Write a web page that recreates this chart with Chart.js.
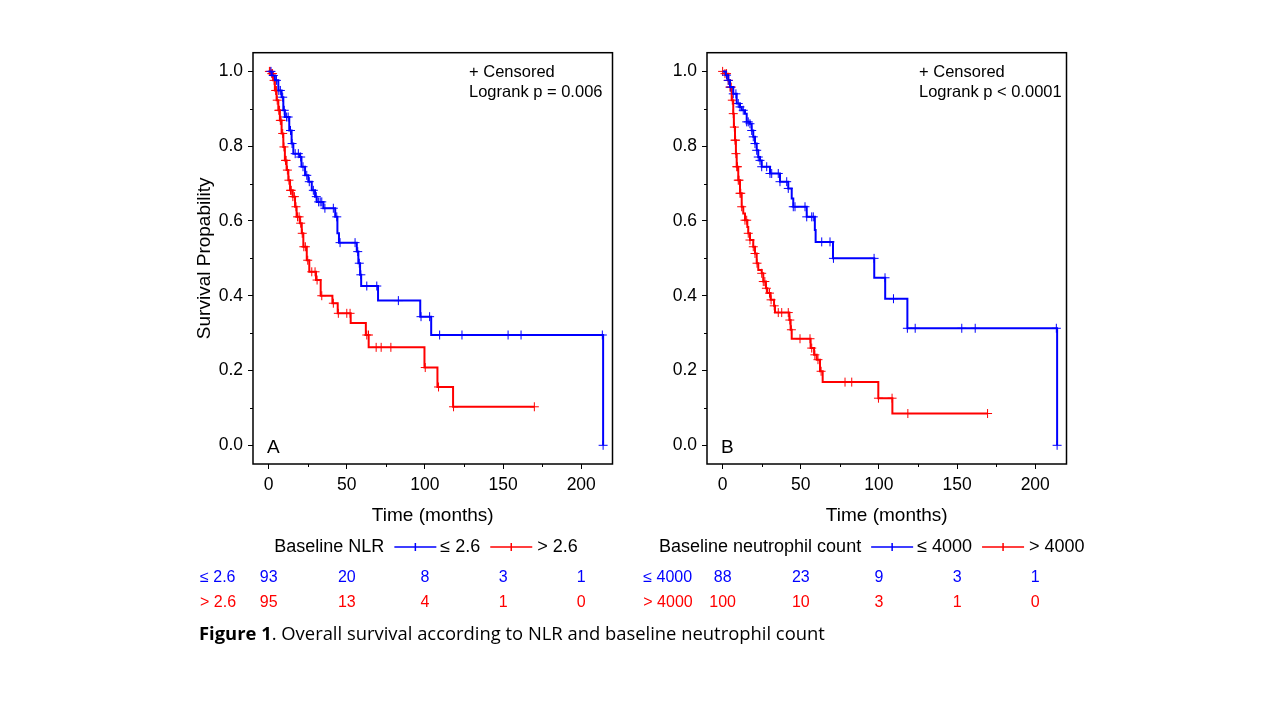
<!DOCTYPE html>
<html>
<head>
<meta charset="utf-8">
<title>Overall survival according to NLR and baseline neutrophil count</title>
<script src="https://cdn.jsdelivr.net/npm/chart.js@4.4.1/dist/chart.umd.min.js"></script>
<style>
  body { margin: 0; background: #fff; width: 1280px; height: 720px; overflow: hidden; position: relative; }
  .panel { position: absolute; top: 40px; }
  #caption {
    position: absolute; left: 199px; top: 620px;
    font-family: "Open Sans", "Noto Sans", sans-serif; font-size: 18.4px; color: #000;
    white-space: nowrap;
  }
</style>
</head>
<body>
<canvas id="chartA" class="panel" style="left:150px" width="500" height="590"></canvas>
<canvas id="chartB" class="panel" style="left:604px" width="500" height="590"></canvas>
<div id="caption"><b>Figure 1</b>. Overall survival according to NLR and baseline neutrophil count</div>

<script>
// axis ticks
const timeTicks = [0, 50, 100, 150, 200];
const timeMinorTicks = [25, 75, 125, 175];
const survTicks = [0, 0.2, 0.4, 0.6, 0.8, 1.0];
const survMinorTicks = [0.1, 0.3, 0.5, 0.7, 0.9];

// Panel A - baseline NLR <= 2.6
const nlrLowTimes = [0, 2, 4, 6.2, 8.3, 9.4, 10.4, 13.2, 14.7, 15.8, 20, 21, 23.3, 25.4, 27.6, 29.7, 30.8, 35, 42.6, 44, 45, 56.4, 57.4, 58.5, 59.2, 70, 97, 104, 214];
const nlrLowSurv  = [1.0, 0.989, 0.976, 0.949, 0.931, 0.896, 0.878, 0.842, 0.807, 0.780, 0.771, 0.745, 0.722, 0.705, 0.682, 0.665, 0.651, 0.634, 0.611, 0.567, 0.542, 0.518, 0.487, 0.456, 0.426, 0.387, 0.344, 0.295, 0.0];
const nlrLowCensor = [1.5, 3, 5, 6.5, 7.5, 9, 10, 11.5, 12.5, 14, 15, 17, 19, 20.5, 22, 24.4, 26, 28.6, 30.5, 32, 33, 34, 36, 41.4, 43.6, 45.7, 55.3, 57, 58, 59, 62.8, 69.2, 83, 97.5, 103, 109.4, 123.7, 153.2, 161.5, 213.5, 214];

// Panel A - baseline NLR > 2.6
const nlrHighTimes = [0, 1.9, 2.9, 4, 5.1, 6.2, 7.2, 8.3, 9.4, 10.4, 11.5, 12.6, 13.7, 15.4, 16.9, 17.9, 20, 21.2, 22.2, 24.4, 26, 30.3, 33.3, 40.8, 44.2, 52.5, 62.2, 64, 99.7, 108, 118, 170];
const nlrHighSurv  = [1.0, 0.994, 0.976, 0.949, 0.923, 0.896, 0.869, 0.834, 0.798, 0.762, 0.736, 0.709, 0.682, 0.665, 0.638, 0.611, 0.594, 0.567, 0.531, 0.495, 0.464, 0.442, 0.400, 0.380, 0.353, 0.327, 0.295, 0.262, 0.208, 0.156, 0.103, 0.103];
const nlrHighCensor = [0.5, 1, 2, 2.5, 3.5, 4.5, 5, 5.5, 6.5, 7, 7.5, 8, 9, 9.8, 10.8, 11.2, 12, 13, 14, 14.5, 15.5, 16.5, 17.5, 18.5, 19.5, 20.5, 21.5, 22.5, 23.5, 25, 27.6, 29.7, 31, 34, 41.4, 44.6, 50, 52.1, 62.8, 63.9, 68.8, 72, 78.2, 100.2, 108.7, 118.3, 170];

const nlrAtRiskLow  = [93, 20, 8, 3, 1];
const nlrAtRiskHigh = [95, 13, 4, 1, 0];

// Panel B - baseline neutrophil count <= 4000
const neuLowTimes = [0, 2, 3.6, 4.7, 6.8, 9, 11.1, 12.2, 14.3, 15.4, 17.5, 18.6, 19.6, 20.7, 21.8, 22.8, 23.9, 25, 30.3, 36.7, 42, 44.2, 45.2, 53.8, 59, 59.5, 70.6, 97, 104, 118.2, 214];
const neuLowSurv  = [1.0, 0.99, 0.976, 0.958, 0.94, 0.914, 0.905, 0.896, 0.887, 0.865, 0.86, 0.842, 0.825, 0.807, 0.789, 0.771, 0.762, 0.745, 0.727, 0.705, 0.687, 0.66, 0.638, 0.611, 0.576, 0.544, 0.50, 0.448, 0.392, 0.313, 0.0];
const neuLowCensor = [2.5, 3.6, 5, 6.8, 8.5, 10, 11.1, 13.2, 15.4, 16.4, 17.5, 18.6, 19.6, 20.7, 21.8, 22.8, 23.9, 25, 28.2, 30.3, 31.4, 35.6, 36.7, 41, 42, 45.2, 46.3, 52.7, 53.8, 57, 58, 63.4, 68.7, 70.9, 96.9, 103.9, 109.3, 118.2, 123.2, 153, 161.6, 213.5, 214];

// Panel B - baseline neutrophil count > 4000
const neuHighTimes = [0, 1.5, 3.6, 4.7, 5.8, 6.8, 7.2, 7.9, 8.5, 9, 10, 11.1, 12.2, 13.2, 14.3, 15.8, 16.4, 17.5, 19.6, 20.7, 21.8, 22.8, 25, 26, 27.7, 28.6, 30.7, 32.9, 33.5, 42.7, 43.5, 44.2, 56.3, 58.5, 60.2, 62.3, 64, 99.6, 108.6, 169.5];
const neuHighSurv  = [1.0, 0.994, 0.976, 0.958, 0.923, 0.887, 0.851, 0.816, 0.78, 0.745, 0.709, 0.674, 0.638, 0.62, 0.602, 0.584, 0.567, 0.549, 0.531, 0.513, 0.487, 0.469, 0.46, 0.438, 0.42, 0.407, 0.389, 0.373, 0.355, 0.335, 0.309, 0.285, 0.26, 0.242, 0.229, 0.198, 0.169, 0.126, 0.085, 0.085];
const neuHighCensor = [0, 1.5, 2.5, 3.6, 4.7, 5.5, 6.2, 6.8, 7.5, 7.9, 8.3, 8.5, 9, 9.5, 10, 10.5, 11.1, 11.6, 12.2, 14.3, 15.4, 16.4, 17.5, 19.6, 20.7, 22, 25, 26, 27, 28, 30, 31, 33, 35.6, 37.8, 42, 43, 44, 49.5, 55.9, 57, 59, 61, 63, 78.3, 82.6, 99.7, 108.4, 118.5, 169.5];

const neuAtRiskLow  = [88, 23, 9, 3, 1];
const neuAtRiskHigh = [100, 10, 3, 1, 0];

const BLUE = '#0000ff';
const RED = '#ff0000';
const FONT = '"Liberation Sans", Arial, sans-serif';

function survivalAt(times, surv, t) {
    let s = surv[0];
    for (let i = 0; i < times.length; i++) {
        if (times[i] <= t) s = surv[i];
    }
    return s;
}

function curveData(times, surv) {
    return times.map((t, i) => ({ x: t, y: surv[i] }));
}

function censorData(times, surv, censor) {
    return censor.map(t => ({ x: t, y: survivalAt(times, surv, t) }));
}

function drawCrossLine(ctx, x, y, color) {
    ctx.save();
    ctx.strokeStyle = color;
    ctx.lineWidth = 1.5;
    ctx.beginPath();
    ctx.moveTo(x, y);
    ctx.lineTo(x + 42, y);
    ctx.moveTo(x + 21, y - 4);
    ctx.lineTo(x + 21, y + 4);
    ctx.stroke();
    ctx.restore();
}

function makeChart(canvasId, cfg) {
    const extras = {
        id: 'kmExtras',
        afterDraw(chart) {
            const ctx = chart.ctx;
            const area = chart.chartArea;
            const xs = chart.scales.x;
            const ys = chart.scales.y;
            ctx.save();

            // frame
            ctx.strokeStyle = '#000';
            ctx.lineWidth = 1.5;
            ctx.strokeRect(area.left, area.top, area.right - area.left, area.bottom - area.top);

            // minor ticks
            ctx.lineWidth = 1;
            ctx.beginPath();
            timeMinorTicks.forEach(v => {
                const px = Math.round(xs.getPixelForValue(v)) + 0.5;
                ctx.moveTo(px, area.bottom);
                ctx.lineTo(px, area.bottom + 3);
            });
            survMinorTicks.forEach(v => {
                const py = Math.round(ys.getPixelForValue(v)) + 0.5;
                ctx.moveTo(area.left, py);
                ctx.lineTo(area.left - 3, py);
            });
            ctx.stroke();

            // panel letter
            ctx.fillStyle = '#000';
            ctx.font = '19px ' + FONT;
            ctx.textAlign = 'left';
            ctx.textBaseline = 'middle';
            ctx.fillText(cfg.letter, area.left + 14, ys.getPixelForValue(0) + 2);

            // censored / logrank note
            ctx.font = '16.5px ' + FONT;
            ctx.fillText('+ Censored', area.left + cfg.noteX, area.top + 19.5);
            ctx.fillText(cfg.logrank, area.left + cfg.noteX, area.top + 39.5);

            // legend
            ctx.font = '18px ' + FONT;
            const ly = 507;
            let lx = area.left + cfg.legendX;
            ctx.fillText(cfg.legendTitle, lx, ly);
            lx += ctx.measureText(cfg.legendTitle).width + 10;
            drawCrossLine(ctx, lx, ly, BLUE);
            lx += 46;
            ctx.fillText(cfg.groups[0], lx, ly);
            lx += ctx.measureText(cfg.groups[0]).width + 10;
            drawCrossLine(ctx, lx, ly, RED);
            lx += 47;
            ctx.fillText(cfg.groups[1], lx, ly);

            // numbers at risk
            ctx.font = '16px ' + FONT;
            const rows = [[cfg.atRisk[0], BLUE, 537.5], [cfg.atRisk[1], RED, 563]];
            rows.forEach(([vals, color, ry], r) => {
                ctx.fillStyle = color;
                ctx.textAlign = 'left';
                ctx.fillText(cfg.groups[r], area.left + cfg.riskLabelX, ry);
                ctx.textAlign = 'center';
                vals.forEach((n, i) => {
                    ctx.fillText(String(n), xs.getPixelForValue(timeTicks[i]), ry);
                });
            });
            ctx.restore();
        }
    };

    return new Chart(document.getElementById(canvasId), {
        type: 'line',
        data: {
            datasets: [
                { data: curveData(cfg.low.times, cfg.low.surv), borderColor: BLUE, borderWidth: 2, stepped: true, pointRadius: 0, fill: false },
                { data: curveData(cfg.high.times, cfg.high.surv), borderColor: RED, borderWidth: 2, stepped: true, pointRadius: 0, fill: false },
                { type: 'scatter', data: censorData(cfg.low.times, cfg.low.surv, cfg.low.censor), pointStyle: 'cross', pointRadius: 4.5, borderColor: BLUE, borderWidth: 1, showLine: false },
                { type: 'scatter', data: censorData(cfg.high.times, cfg.high.surv, cfg.high.censor), pointStyle: 'cross', pointRadius: 4.5, borderColor: RED, borderWidth: 1, showLine: false }
            ]
        },
        options: {
            responsive: false,
            animation: false,
            layout: { padding: { left: 0, top: 12.7, right: 37.5, bottom: 96 } },
            plugins: { legend: { display: false }, tooltip: { enabled: false } },
            scales: {
                x: {
                    type: 'linear',
                    min: -10,
                    max: 220,
                    afterBuildTicks: s => { s.ticks = timeTicks.map(v => ({ value: v })); },
                    afterFit: s => { s.height = 70; s.paddingLeft = 0; s.paddingRight = 0; },
                    ticks: { color: '#000', font: { family: FONT, size: 17.5 }, padding: 6, maxRotation: 0 },
                    grid: { drawOnChartArea: false, drawTicks: true, tickLength: 5, tickColor: '#000', tickWidth: 1 },
                    border: { display: false },
                    title: { display: true, text: 'Time (months)', color: '#000', font: { family: FONT, size: 19 }, padding: { top: 0, bottom: 7 } }
                },
                y: {
                    min: -0.05,
                    max: 1.05,
                    afterBuildTicks: s => { s.ticks = survTicks.map(v => ({ value: v })); },
                    afterFit: s => { s.width = 103; s.paddingTop = 0; s.paddingBottom = 0; },
                    ticks: { color: '#000', font: { family: FONT, size: 17.5 }, padding: 5, callback: v => v.toFixed(1) },
                    grid: { drawOnChartArea: false, drawTicks: true, tickLength: 5, tickColor: '#000', tickWidth: 1 },
                    border: { display: false },
                    title: { display: cfg.yTitle, text: 'Survival Propability', color: '#000', font: { family: FONT, size: 19 }, padding: { top: 43, bottom: 0 } }
                }
            }
        },
        plugins: [extras]
    });
}

makeChart('chartA', {
    letter: 'A',
    yTitle: true,
    logrank: 'Logrank p = 0.006',
    noteX: 216,
    legendTitle: 'Baseline NLR',
    legendX: 21.3,
    riskLabelX: -53,
    groups: ['\u2264 2.6', '> 2.6'],
    low: { times: nlrLowTimes, surv: nlrLowSurv, censor: nlrLowCensor },
    high: { times: nlrHighTimes, surv: nlrHighSurv, censor: nlrHighCensor },
    atRisk: [nlrAtRiskLow, nlrAtRiskHigh]
});

makeChart('chartB', {
    letter: 'B',
    yTitle: false,
    logrank: 'Logrank p < 0.0001',
    noteX: 212,
    legendTitle: 'Baseline neutrophil count',
    legendX: -48,
    riskLabelX: -63.7,
    groups: ['\u2264 4000', '> 4000'],
    low: { times: neuLowTimes, surv: neuLowSurv, censor: neuLowCensor },
    high: { times: neuHighTimes, surv: neuHighSurv, censor: neuHighCensor },
    atRisk: [neuAtRiskLow, neuAtRiskHigh]
});
</script>
</body>
</html>
